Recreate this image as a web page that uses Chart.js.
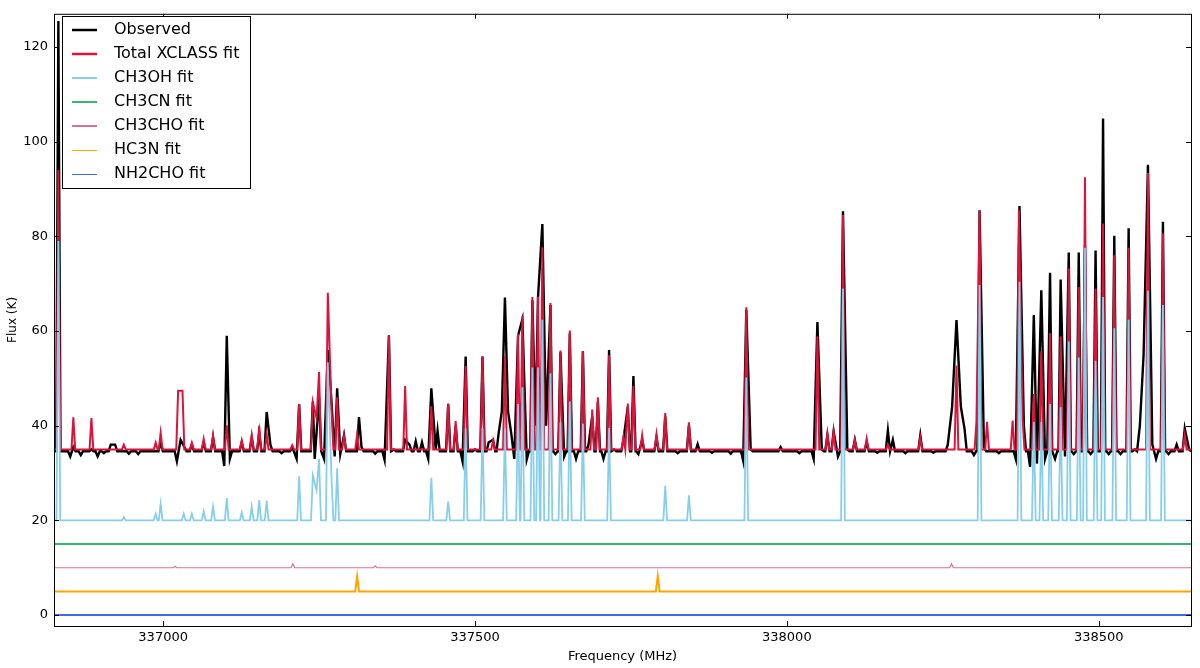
<!DOCTYPE html>
<html>
<head>
<meta charset="utf-8">
<script src="https://cdn.jsdelivr.net/npm/chart.js@4.4.1/dist/chart.umd.min.js"></script>
<style>
  html, body { margin: 0; padding: 0; background: #fff; }
  #wrap { width: 1200px; height: 668px; }
</style>
</head>
<body>
<div id="wrap"><canvas id="spectrumChart" width="1200" height="668"></canvas></div>
<script>
// axis ranges and ticks
const xMin = 336825;
const xMax = 338648;
const yMin = -2.3;
const yMax = 127;
const xTicks = [337000, 337500, 338000, 338500];
const yTicks = [0, 20, 40, 60, 80, 100, 120];

const seriesNames = ['Observed', 'Total XCLASS fit', 'CH3OH fit', 'CH3CN fit', 'CH3CHO fit', 'HC3N fit', 'NH2CHO fit'];
const seriesColors = ['#000000', '#dc143c', '#87ceeb', '#3cb371', '#db7093', '#ffa500', '#4169e1'];
const baselines = [34.6, 35, 20, 15, 10, 5, 0];

// observed spectrum: line peaks and the dips next to them (MHz, K)
const obsFreq = [336832, 336851, 336856, 336868, 336885, 336895, 336905, 336916, 336923, 336945, 336960, 336996,
  337022, 337028, 337034, 337046, 337065, 337080, 337098, 337102, 337107, 337126, 337142, 337154,
  337166, 337172, 337190, 337207, 337214, 337218, 337240, 337243, 337250, 337258, 337264, 337270, 337275,
  337279, 337284, 337290, 337314, 337318, 337340, 337355, 337362, 337370, 337388, 337395, 337405, 337415,
  337425, 337430, 337437, 337440, 337457, 337469, 337480, 337485, 337500, 337512, 337522, 337529,
  337538, 337543, 337548, 337553, 337558, 337563, 337569, 337576, 337583, 337592, 337597, 337601,
  337608, 337614, 337621, 337629, 337637, 337643, 337652, 337662, 337673, 337682, 337688, 337697,
  337706, 337715, 337723, 337738, 337745, 337754, 337762, 337768, 337791, 337805, 337825, 337843, 337857,
  337880, 337910, 337930, 337935, 337942, 337990, 338020, 338043, 338049, 338056, 338065, 338075, 338082, 338090, 338097,
  338109, 338128, 338145, 338162, 338170, 338190, 338214, 338235, 338258, 338265, 338272, 338279, 338285, 338300, 338309,
  338316, 338340, 338367, 338373, 338380, 338390, 338396, 338401, 338408, 338414, 338422, 338430, 338439,
  338446, 338452, 338460, 338468, 338478, 338487, 338495, 338507, 338516, 338525, 338535, 338548,
  338558, 338566, 338572, 338579, 338586, 338592, 338603, 338612, 338625, 338638, 338645];
const obsFlux = [125.5, 33.5, 35.5, 33.8, 35, 33.5, 34.2, 36, 36, 34.1, 34, 36.5,
  32.5, 37, 35.5, 36, 36.5, 37.5, 31.5, 59, 33, 36.5, 37.5, 38.5,
  42.9, 36, 34.2, 35.5, 33, 44.6, 45.1, 33, 46, 33, 56, 45, 33.5,
  47.9, 34, 38, 41.8, 35.5, 34.1, 32.8, 59.1, 35, 37, 36, 36.7, 36.5,
  33, 47.9, 35, 38.9, 44.5, 40, 32.5, 54.6, 35, 54.6, 36.5, 37,
  38.5, 43, 67.1, 43, 38.5, 33, 59, 62.5, 32.9, 66.5, 40, 67,
  82.6, 40, 65.5, 34, 55.5, 33.5, 59.5, 33, 55.7, 36, 42, 45,
  33, 56, 35, 37, 44, 50.5, 34, 37, 37.5, 42, 34.2, 40, 36.1,
  34.3, 34.1, 32.6, 64.5, 35, 35.5, 34.2, 33, 61.9, 35, 38, 38.8, 33.5, 85.3, 35,
  37, 36.5, 34.3, 39, 37, 34.2, 38, 34.3, 36, 44, 62.3, 44, 39.3, 33.8, 85.5,
  35.5, 34.2, 33, 86.4, 40, 31.3, 63.4, 32, 68.6, 33, 72.3, 33, 70.9,
  33.5, 76.6, 34, 76.6, 78, 34, 77, 104.9, 34, 80.1, 34, 81.7,
  35, 40, 55, 95.1, 36, 33, 83.1, 34, 36, 39.4, 35];

// total XCLASS fit peaks
const fitFreq = [336832, 336856, 336885, 336937, 336988, 336996, 337024, 337027.5, 337031, 337046, 337065,
  337080, 337102, 337126, 337142, 337154, 337166, 337207, 337218, 337240, 337246, 337250, 337264,
  337270, 337279, 337290, 337311, 337362, 337388, 337430, 337457, 337469, 337485, 337512, 337529,
  337548, 337569, 337576, 337592, 337601, 337608, 337621, 337637, 337652, 337673, 337688, 337697,
  337715, 337738, 337745, 337754, 337768, 337791, 337805, 337843, 337935, 338049, 338065, 338075,
  338090, 338109, 338128, 338162, 338214, 338272, 338304, 338309, 338321, 338362, 338372, 338378,
  338396, 338408, 338422, 338439, 338452, 338468, 338478, 338495, 338507, 338525, 338548, 338579,
  338603, 338638];
const fitFlux = [94, 41.8, 41.6, 36, 36.4, 38.5, 47.4, 47.4, 47.4, 36.4, 37.2,
  38, 40.1, 36.9, 38, 39.9, 38.1, 35.9, 44.6, 45, 41.6, 51.4, 68.1,
  43.5, 46, 37.8, 38.1, 59.1, 48.4, 44.1, 44.7, 41, 52.6, 54.6, 36.9,
  54.7, 59.4, 63.2, 67.2, 67.2, 77.7, 65.9, 55.9, 60.1, 55.7, 43.4, 46,
  54.9, 37.6, 44.7, 48.4, 38, 38.2, 42.7, 40.7, 65, 58.9, 38.3, 38.8,
  84.5, 37, 37.3, 36, 37.5, 52.7, 40.9, 85.4, 40.8, 41.1, 85.5, 41.5,
  46.7, 55.7, 59.6, 58.9, 73.2, 69.3, 92.5, 69, 82.7, 76, 77.6, 93.4,
  80.6, 38];

// CH3OH fit peaks (offset baseline 20 K)
const ch3ohFreq = [336832, 336937, 336988, 336996, 337033, 337046, 337065, 337080, 337102, 337126,
  337142, 337154, 337166, 337218, 337240, 337246, 337250, 337264, 337270, 337279, 337430, 337457,
  337485, 337512, 337548, 337569, 337576, 337592, 337601, 337608, 337621, 337637, 337652, 337673,
  337715, 337805, 337843, 337935, 338090, 338309, 338373, 338396, 338408, 338422, 338439, 338452,
  338468, 338478, 338495, 338507, 338525, 338548, 338579, 338603];
const ch3ohFlux = [79, 20.7, 21.4, 23.5, 21.4, 21.4, 21.9, 22.9, 24.7, 21.7,
  22.9, 24.3, 24.2, 29.3, 29.5, 26.4, 33, 53.4, 28.8, 31, 29, 24,
  39.4, 39.4, 39.4, 44.6, 48.1, 52.3, 52.3, 62.4, 51.1, 40.7, 45.1, 40.4,
  39.5, 27.3, 25.3, 50.2, 69, 69.7, 70.4, 40.8, 40.8, 44.6, 43.9, 57.8,
  54.4, 77.6, 53.7, 67.2, 60.6, 62.4, 68.5, 65.5];

// weaker species (offset baselines 15, 10, 5, 0 K)
const ch3cnFreq = [];
const ch3cnFlux = [];
const ch3choFreq = [337019, 337208, 337340, 338264];
const ch3choFlux = [10.3, 10.8, 10.4, 10.8];
const hc3nFreq = [337311, 337793];
const hc3nFlux = [8.2, 8.3];
const nh2choFreq = [];
const nh2choFlux = [];

// turn a peak list into line points sitting on a flat baseline
function buildLine(freqs, fluxes, base, w) {
  const pts = [{ x: xMin, y: base }];
  freqs.forEach(function (f, i) {
    if (i === 0 || f - freqs[i - 1] > 2 * w) pts.push({ x: f - w, y: base });
    pts.push({ x: f, y: fluxes[i] });
    if (i === freqs.length - 1 || freqs[i + 1] - f > 2 * w) pts.push({ x: f + w, y: base });
  });
  pts.push({ x: xMax, y: base });
  return pts;
}

const lineData = [
  buildLine(obsFreq, obsFlux, baselines[0], 3.5),
  buildLine(fitFreq, fitFlux, baselines[1], 3),
  buildLine(ch3ohFreq, ch3ohFlux, baselines[2], 3),
  buildLine(ch3cnFreq, ch3cnFlux, baselines[3], 3),
  buildLine(ch3choFreq, ch3choFlux, baselines[4], 3),
  buildLine(hc3nFreq, hc3nFlux, baselines[5], 3),
  buildLine(nh2choFreq, nh2choFlux, baselines[6], 3)
];
const lineWidths = [2.4, 2, 1.8, 2, 1.2, 2, 2];
const legendWidths = [2.5, 2.5, 2, 2, 2, 1, 1];

const datasets = seriesNames.map(function (name, i) {
  return {
    label: name,
    data: lineData[i],
    borderColor: seriesColors[i],
    borderWidth: lineWidths[i],
    pointRadius: 0,
    tension: 0,
    fill: false,
    order: seriesNames.length - i
  };
});

// frame, inward ticks and the boxed legend, matplotlib style
const framePlugin = {
  id: 'frame',
  afterDraw: function (chart) {
    const ctx = chart.ctx;
    const a = chart.chartArea;
    const xs = chart.scales.x;
    const ys = chart.scales.y;
    ctx.save();
    ctx.strokeStyle = '#000';
    ctx.lineWidth = 1;
    ctx.strokeRect(a.left + 0.5, a.top + 0.5, a.right - a.left, a.bottom - a.top);
    ctx.beginPath();
    xTicks.forEach(function (t) {
      const px = Math.round(xs.getPixelForValue(t)) + 0.5;
      ctx.moveTo(px, a.bottom); ctx.lineTo(px, a.bottom - 5);
      ctx.moveTo(px, a.top); ctx.lineTo(px, a.top + 5);
    });
    yTicks.forEach(function (t) {
      const py = Math.round(ys.getPixelForValue(t)) + 0.5;
      ctx.moveTo(a.left, py); ctx.lineTo(a.left + 5, py);
      ctx.moveTo(a.right, py); ctx.lineTo(a.right - 5, py);
    });
    ctx.stroke();

    // legend
    const bx = 62, by = 16, bw = 188, bh = 172;
    ctx.fillStyle = '#fff';
    ctx.fillRect(bx, by, bw, bh);
    ctx.strokeRect(bx + 0.5, by + 0.5, bw, bh);
    ctx.font = '16px "DejaVu Sans"';
    ctx.textBaseline = 'middle';
    ctx.textAlign = 'left';
    seriesNames.forEach(function (name, i) {
      const ry = 30 + i * 24;
      const ly = legendWidths[i] % 2 === 1 ? ry + 0.5 : ry;
      ctx.strokeStyle = seriesColors[i];
      ctx.lineWidth = legendWidths[i];
      ctx.beginPath();
      ctx.moveTo(72, ly); ctx.lineTo(97, ly);
      ctx.stroke();
      ctx.fillStyle = '#000';
      ctx.fillText(name, 114, ry);
    });
    ctx.restore();
  }
};

new Chart(document.getElementById('spectrumChart').getContext('2d'), {
  type: 'line',
  data: { datasets: datasets },
  options: {
    responsive: false,
    animation: false,
    devicePixelRatio: 1,
    layout: { padding: { left: 0, right: 9, top: 8, bottom: 0 } },
    plugins: { legend: { display: false }, tooltip: { enabled: false } },
    scales: {
      x: {
        type: 'linear',
        min: xMin,
        max: xMax,
        grid: { display: false, drawTicks: false },
        border: { display: false },
        afterBuildTicks: function (s) { s.ticks = xTicks.map(function (v) { return { value: v }; }); },
        afterFit: function (s) { s.height = 42; },
        ticks: {
          padding: 4,
          color: '#000',
          font: { family: 'DejaVu Sans', size: 13 },
          maxRotation: 0,
          callback: function (v) { return String(v); }
        },
        title: {
          display: true,
          text: 'Frequency (MHz)',
          color: '#000',
          font: { family: 'DejaVu Sans', size: 13 },
          padding: { top: 0, bottom: 4 }
        }
      },
      y: {
        min: yMin,
        max: yMax,
        grid: { display: false, drawTicks: false },
        border: { display: false },
        afterBuildTicks: function (s) { s.ticks = yTicks.map(function (v) { return { value: v }; }); },
        afterFit: function (s) { s.width = 54; },
        ticks: {
          padding: 6,
          color: '#000',
          font: { family: 'DejaVu Sans', size: 13 },
          callback: function (v) { return String(v); }
        },
        title: {
          display: true,
          text: 'Flux (K)',
          color: '#000',
          font: { family: 'DejaVu Sans', size: 12 },
          padding: { top: 6, bottom: 0 }
        }
      }
    }
  },
  plugins: [framePlugin]
});
</script>
</body>
</html>
